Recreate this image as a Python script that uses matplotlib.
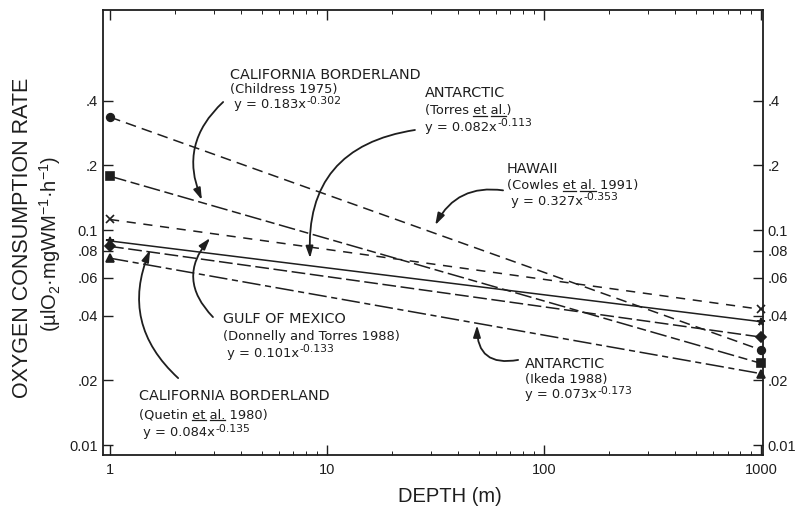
import matplotlib
matplotlib.use("Agg")
import matplotlib.pyplot as plt
from matplotlib.font_manager import FontProperties
from matplotlib.lines import Line2D
from matplotlib.ticker import FixedLocator, FixedFormatter, NullFormatter, LogLocator

plt.rcParams["font.family"] = ["Liberation Sans", "DejaVu Sans"]
plt.rcParams["mathtext.fontset"] = "custom"
plt.rcParams["mathtext.rm"] = "Liberation Sans"
plt.rcParams["mathtext.it"] = "Liberation Sans:italic"
plt.rcParams["mathtext.bf"] = "Liberation Sans:bold"

INK = "#1e1e1e"

# end points of each fitted line (depth in m, rate)
depth = [1, 1000]
hawaii = [0.335, 0.0277]
childress = [0.178, 0.0240]
gulf = [0.112, 0.0428]
torres = [0.089, 0.0375]
quetin = [0.084, 0.0318]
ikeda = [0.074, 0.0215]

ytick_vals = [0.01, 0.02, 0.04, 0.06, 0.08, 0.1, 0.2, 0.4]
ytick_text = ["0.01", ".02", ".04", ".06", ".08", "0.1", ".2", ".4"]
xtick_vals = [1, 10, 100, 1000]
xtick_text = ["1", "10", "100", "1000"]

W, H = 801, 516
fig = plt.figure(figsize=(W / 100, H / 100), dpi=100)
ax = fig.add_axes([103 / W, 1 - 455 / H, 660 / W, 445 / H])

series = [
    (hawaii, "o", (0, (7, 4))),
    (childress, "s", (0, (11, 3, 6, 3))),
    (gulf, "x", (0, (6, 5))),
    (torres, "*", "-"),
    (quetin, "D", (0, (9, 3))),
    (ikeda, "^", (0, (12, 3, 4, 3))),
]
for vals, mk, ls in series:
    ax.plot(depth, vals, color=INK, lw=1.1, linestyle=ls, marker=mk,
            markersize=5.5, markeredgewidth=1.2, clip_on=False)

ax.set_xscale("log")
ax.set_yscale("log")
ax.set_xlim(0.928, 1020)
ax.set_ylim(0.009, 1.055)

ax.yaxis.set_major_locator(FixedLocator(ytick_vals))
ax.yaxis.set_major_formatter(FixedFormatter(ytick_text))
ax.yaxis.set_minor_locator(FixedLocator([]))
ax.xaxis.set_major_locator(FixedLocator(xtick_vals))
ax.xaxis.set_major_formatter(FixedFormatter(xtick_text))
ax.xaxis.set_minor_locator(LogLocator(base=10, subs=range(2, 10)))
ax.xaxis.set_minor_formatter(NullFormatter())

ax.tick_params(axis="both", which="major", direction="in", length=7,
               width=1.0, labelsize=10.5, colors=INK,
               left=True, right=True, top=True, bottom=True,
               labelleft=True, labelright=True)
ax.tick_params(axis="x", which="minor", direction="in", length=3,
               width=0.7, top=True, bottom=True, colors=INK)
ax.tick_params(axis="x", which="major", pad=6)
for sp in ax.spines.values():
    sp.set_linewidth(1.3)
    sp.set_color(INK)

fig.text(450 / W, 1 - 497 / H, "DEPTH (m)", fontsize=14.5,
         ha="center", va="center", color=INK)
fig.text(23 / W, 1 - 238 / H, "OXYGEN CONSUMPTION RATE", fontsize=15.5,
         rotation=90, ha="center", va="center", color=INK)
fig.text(50 / W, 1 - 244 / H,
         r"(µlO$_2$·mgWM$^{\mathregular{-1}}$·h$^{\mathregular{-1}}$)",
         fontsize=14.5, rotation=90, ha="center", va="center", color=INK)

# annotation blocks: left x, first baseline y (pixels from top), line step,
# lines; a line given as (text, exponent) gets a raised exponent
labels = [
    (230, 79, 14.5, ["CALIFORNIA BORDERLAND", "(Childress 1975)",
                     (" y = 0.183x", "-0.302")]),
    (425, 97, 17, ["ANTARCTIC", "(Torres et al.)", ("y = 0.082x", "-0.113")]),
    (507, 173, 16, ["HAWAII", "(Cowles et al. 1991)",
                    (" y = 0.327x", "-0.353")]),
    (223, 323, 17, ["GULF OF MEXICO", "(Donnelly and Torres 1988)",
                    (" y = 0.101x", "-0.133")]),
    (139, 400, 18, ["CALIFORNIA BORDERLAND", "(Quetin et al. 1980)",
                    (" y = 0.084x", "-0.135")]),
    (525, 368, 15, ["ANTARCTIC", "(Ikeda 1988)", ("y = 0.073x", "-0.173")]),
]
FAM = "DejaVu Sans"
FS = 9.4
FS_CAPS = 10.4
FSE = 7.8
fp = FontProperties(family=FAM, size=FS)
renderer = fig.canvas.get_renderer()


def text_w(s):
    return renderer.get_text_width_height_descent(s, fp, ismath=False)[0]


for px, py, step, lines in labels:
    for i, line in enumerate(lines):
        by = py + step * i
        if isinstance(line, tuple):
            base, expo = line
            fig.text(px / W, 1 - by / H, base, fontsize=FS, family=FAM,
                     ha="left", va="baseline", color=INK)
            ex = px + text_w(base) + 0.5
            fig.text(ex / W, 1 - (by - 4.5) / H, expo, fontsize=FSE,
                     family=FAM, ha="left", va="baseline", color=INK)
            continue
        size = FS_CAPS if i == 0 else FS
        fig.text(px / W, 1 - by / H, line, fontsize=size, family=FAM,
                 ha="left", va="baseline", color=INK)
        k = line.find("et al.")
        if k < 0:
            continue
        for start, word in ((k, "et"), (k + 3, "al.")):
            x0 = px + text_w(line[:start])
            x1 = x0 + text_w(word)
            fig.add_artist(Line2D([x0 / W, x1 / W],
                                  [1 - (by + 2) / H, 1 - (by + 2) / H],
                                  transform=fig.transFigure, color=INK,
                                  lw=0.9))

# curved pointers: (start x, start y, tip x, tip y, rad) in data units
pointers = [
    (3.32, 0.394, 2.65, 0.138, 0.35),
    (25.4, 0.292, 8.35, 0.074, 0.45),
    (64.7, 0.153, 31.5, 0.1055, 0.35),
    (2.98, 0.0394, 2.89, 0.0918, -0.45),
    (2.06, 0.0205, 1.53, 0.0807, -0.35),
    (75.9, 0.0249, 49.1, 0.0361, -0.6),
]
for sx, sy, tx, ty, rad in pointers:
    ax.annotate("", xy=(tx, ty), xytext=(sx, sy),
                arrowprops=dict(arrowstyle="-|>,head_length=0.7,head_width=0.22",
                                connectionstyle=f"arc3,rad={rad}",
                                color=INK, lw=1.3, shrinkA=0, shrinkB=0))

fig.savefig("out.png", dpi=100)
